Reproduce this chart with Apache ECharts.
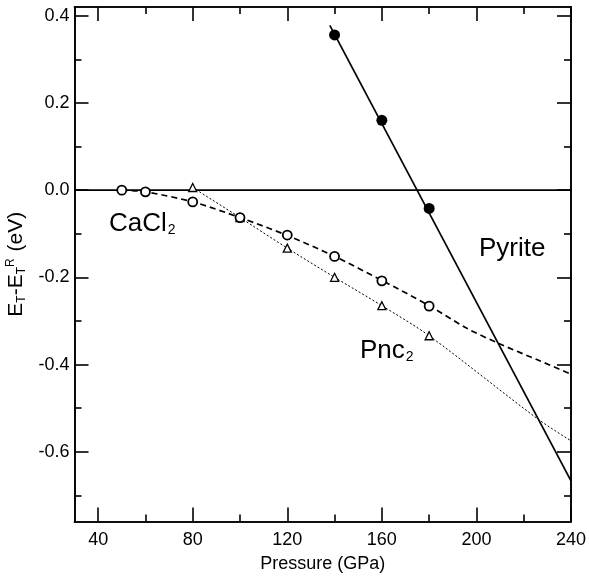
<!DOCTYPE html>
<html><head><meta charset="utf-8">
<script src="https://cdn.jsdelivr.net/npm/echarts@6/dist/echarts.min.js"></script>
<style>html,body{margin:0;padding:0;background:#fff}#c{width:589px;height:581px}</style>
</head><body><div id="c"></div>
<script>
// tick values
const xMajor = [40, 80, 120, 160, 200, 240];
const xMinor = [60, 100, 140, 180, 220];
const yMajor = [-0.6, -0.4, -0.2, 0.0, 0.2, 0.4];
const yMinor = [-0.7, -0.5, -0.3, -0.1, 0.1, 0.3];

// Pyrite (filled circles) and its straight line
const pyriteP = [140, 160, 180];
const pyriteE = [0.356, 0.160, -0.042];
const pyriteLineP = [138, 240];
const pyriteLineE = [0.378, -0.667];

// CaCl2 (open circles) and dashed fit
const cacl2P = [50, 60, 80, 100, 120, 140, 160, 180];
const cacl2E = [0.000, -0.004, -0.027, -0.063, -0.103, -0.152, -0.208, -0.266];
const cacl2FitP = [50, 60, 80, 100, 120, 140, 160, 180, 196, 210, 227, 240];
const cacl2FitE = [0.000, -0.004, -0.027, -0.063, -0.104, -0.152, -0.207, -0.265, -0.317, -0.353, -0.392, -0.422];

// Pnc2 (open triangles) and dotted line
const pnc2P = [80, 100, 120, 140, 160, 180];
const pnc2E = [0.006, -0.063, -0.133, -0.200, -0.265, -0.334];
const pnc2FitP = [80, 100, 120, 140, 160, 180, 226, 240];
const pnc2FitE = [0.006, -0.063, -0.133, -0.200, -0.265, -0.334, -0.525, -0.575];

// reference zero line
const zeroP = [30, 240];
const zeroE = [0, 0];

const zip = (a, b) => a.map((v, i) => [v, b[i]]);
const FONT = 'Liberation Sans';
const black = '#000';

function xAx(pos, ticks, len, labels, extra) {
  return Object.assign({
    type: 'value', min: 30, max: 240, position: pos, gridIndex: 0,
    axisLine: { show: true, onZero: false, lineStyle: { color: black, width: 1.6 } },
    axisTick: { show: true, inside: true, length: len, customValues: ticks, lineStyle: { color: black, width: 1.6 } },
    axisLabel: labels ? { show: true, customValues: ticks, color: black, fontSize: 18, fontFamily: FONT, margin: 10 } : { show: false },
    splitLine: { show: false }
  }, extra || {});
}
function yAx(pos, ticks, len, labels, extra) {
  return Object.assign({
    type: 'value', min: -0.76, max: 0.42, position: pos, gridIndex: 0,
    axisLine: { show: true, onZero: false, lineStyle: { color: black, width: 1.6 } },
    axisTick: { show: true, inside: true, length: len, customValues: ticks, lineStyle: { color: black, width: 1.6 } },
    axisLabel: labels ? { show: true, customValues: ticks, color: black, fontSize: 18, fontFamily: FONT, margin: 5,
      formatter: v => v.toFixed(1) } : { show: false },
    splitLine: { show: false }
  }, extra || {});
}

const chart = echarts.init(document.getElementById('c'), null, { renderer: 'canvas' });
chart.setOption({
  backgroundColor: '#fff',
  animation: false,
  grid: { left: 74.5, right: 18, top: 7, bottom: 59.5, containLabel: false, outerBoundsMode: 'none' },
  xAxis: [
    xAx('bottom', xMajor, 14, true, { name: 'Pressure (GPa)', nameLocation: 'middle', nameGap: 34,
      nameTextStyle: { color: black, fontSize: 18, fontFamily: FONT } }),
    xAx('bottom', xMinor, 7, false),
    xAx('top', xMajor, 14, false),
    xAx('top', xMinor, 7, false)
  ],
  yAxis: [
    yAx('left', yMajor, 14, true, { name: 'E{s|T}-E{s|T}{p|R} (eV)', nameLocation: 'middle', nameGap: 43,
      nameTextStyle: { color: black, fontSize: 21, fontFamily: FONT,
        rich: { s: { fontSize: 12, fontFamily: FONT, color: black, padding: [11, 0, 0, 0] },
                p: { fontSize: 12, fontFamily: FONT, color: black, padding: [0, 1, 11, 0] } } } }),
    yAx('left', yMinor, 7, false),
    yAx('right', yMajor, 14, false),
    yAx('right', yMinor, 7, false)
  ],
  series: [
    { type: 'line', data: zip(zeroP, zeroE), symbol: 'none', lineStyle: { color: black, width: 1.6 }, z: 2 },
    { type: 'line', data: zip(pyriteLineP, pyriteLineE), symbol: 'none', lineStyle: { color: black, width: 1.7 }, z: 3 },
    { type: 'line', data: zip(cacl2FitP, cacl2FitE), symbol: 'none', smooth: 0.3,
      lineStyle: { color: black, width: 1.7, type: [6, 4] }, z: 3 },
    { type: 'line', data: zip(pnc2FitP, pnc2FitE), symbol: 'none', smooth: 0.3,
      lineStyle: { color: black, width: 1, type: [2, 2] }, z: 3 },
    { type: 'scatter', data: zip(pyriteP, pyriteE), symbol: 'circle', symbolSize: 11,
      itemStyle: { color: black, opacity: 1 }, z: 5 },
    { type: 'scatter', data: zip(cacl2P, cacl2E), symbol: 'circle', symbolSize: 9,
      itemStyle: { color: '#fff', borderColor: black, borderWidth: 1.8, opacity: 1 }, z: 5 },
    { type: 'scatter', data: zip(pnc2P, pnc2E), symbol: 'triangle', symbolSize: 8,
      itemStyle: { color: '#fff', borderColor: black, borderWidth: 1.3, opacity: 1 }, z: 4 }
  ],
  graphic: [
    { type: 'text', left: 109, top: 211, z: 10, style: { text: 'CaCl{s|2}', fill: black, font: '26px ' + FONT,
      rich: { s: { fontSize: 14, fontFamily: FONT, fill: black, padding: [13, 0, 0, 1] } } } },
    { type: 'text', left: 479, top: 236, z: 10, style: { text: 'Pyrite', fill: black, font: '26px ' + FONT } },
    { type: 'text', left: 360, top: 338, z: 10, style: { text: 'Pnc{s|2}', fill: black, font: '26px ' + FONT,
      rich: { s: { fontSize: 14, fontFamily: FONT, fill: black, padding: [13, 0, 0, 1] } } } }
  ]
});
</script>
</body></html>
